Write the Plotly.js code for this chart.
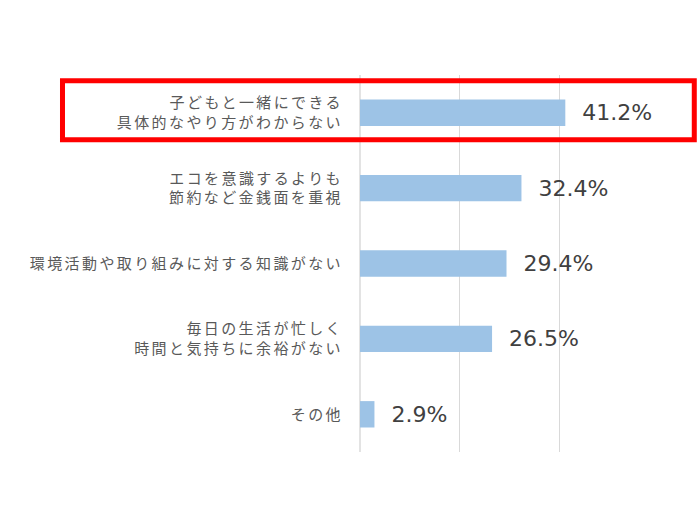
<!DOCTYPE html>
<html>
<head>
<meta charset="utf-8">
<script src="https://cdn.plot.ly/plotly-3.0.1.min.js"></script>
<style>
html,body{margin:0;padding:0;background:#fff;}
#chart{width:700px;height:520px;}
#chart .ytick text{letter-spacing:2.4px;}
</style>
</head>
<body>
<div id="chart"></div>
<script>
const categories = [
  "子どもと一緒にできる<br>具体的なやり方がわからない",
  "エコを意識するよりも<br>節約など金銭面を重視",
  "環境活動や取り組みに対する知識がない",
  "毎日の生活が忙しく<br>時間と気持ちに余裕がない",
  "その他"
];
const values = [41.2, 32.4, 29.4, 26.5, 2.9];
const xTicks = [0, 20, 40, 60];

const trace = {
  type: "bar",
  orientation: "h",
  y: categories,
  x: values,
  marker: {color: "#9DC3E6"},
  width: 0.35,
  text: values.map(v => "\u00a0\u00a0" + v.toFixed(1) + "%"),
  textposition: "outside",
  cliponaxis: false,
  textfont: {family: "DejaVu Sans, sans-serif", size: 22, color: "#404040"},
  hoverinfo: "none"
};

const layout = {
  width: 700, height: 520,
  margin: {l: 360, r: 41, t: 75, b: 68},
  paper_bgcolor: "#ffffff", plot_bgcolor: "#ffffff",
  showlegend: false,
  font: {family: "Noto Sans CJK JP, sans-serif", color: "#595959"},
  xaxis: {
    range: [0, 60], tickvals: xTicks, showticklabels: false,
    showgrid: true, gridcolor: "#d9d9d9", gridwidth: 1.5,
    zeroline: true, zerolinecolor: "#e3e3e3", zerolinewidth: 1.5,
    showline: false, fixedrange: true
  },
  yaxis: {
    type: "category", autorange: "reversed",
    showgrid: false, zeroline: false, showline: false,
    ticks: "", ticklabelstandoff: 16,
    tickfont: {family: "Noto Sans CJK JP, sans-serif", size: 15, color: "#595959"}
  },
  shapes: [{
    type: "rect", xref: "paper", yref: "paper",
    x0: -0.995, x1: 1.118, y0: 0.828, y1: 0.985,
    line: {color: "#ff0000", width: 5}, fillcolor: "rgba(0,0,0,0)"
  }]
};

Plotly.newPlot("chart", [trace], layout, {staticPlot: true});
</script>
</body>
</html>
